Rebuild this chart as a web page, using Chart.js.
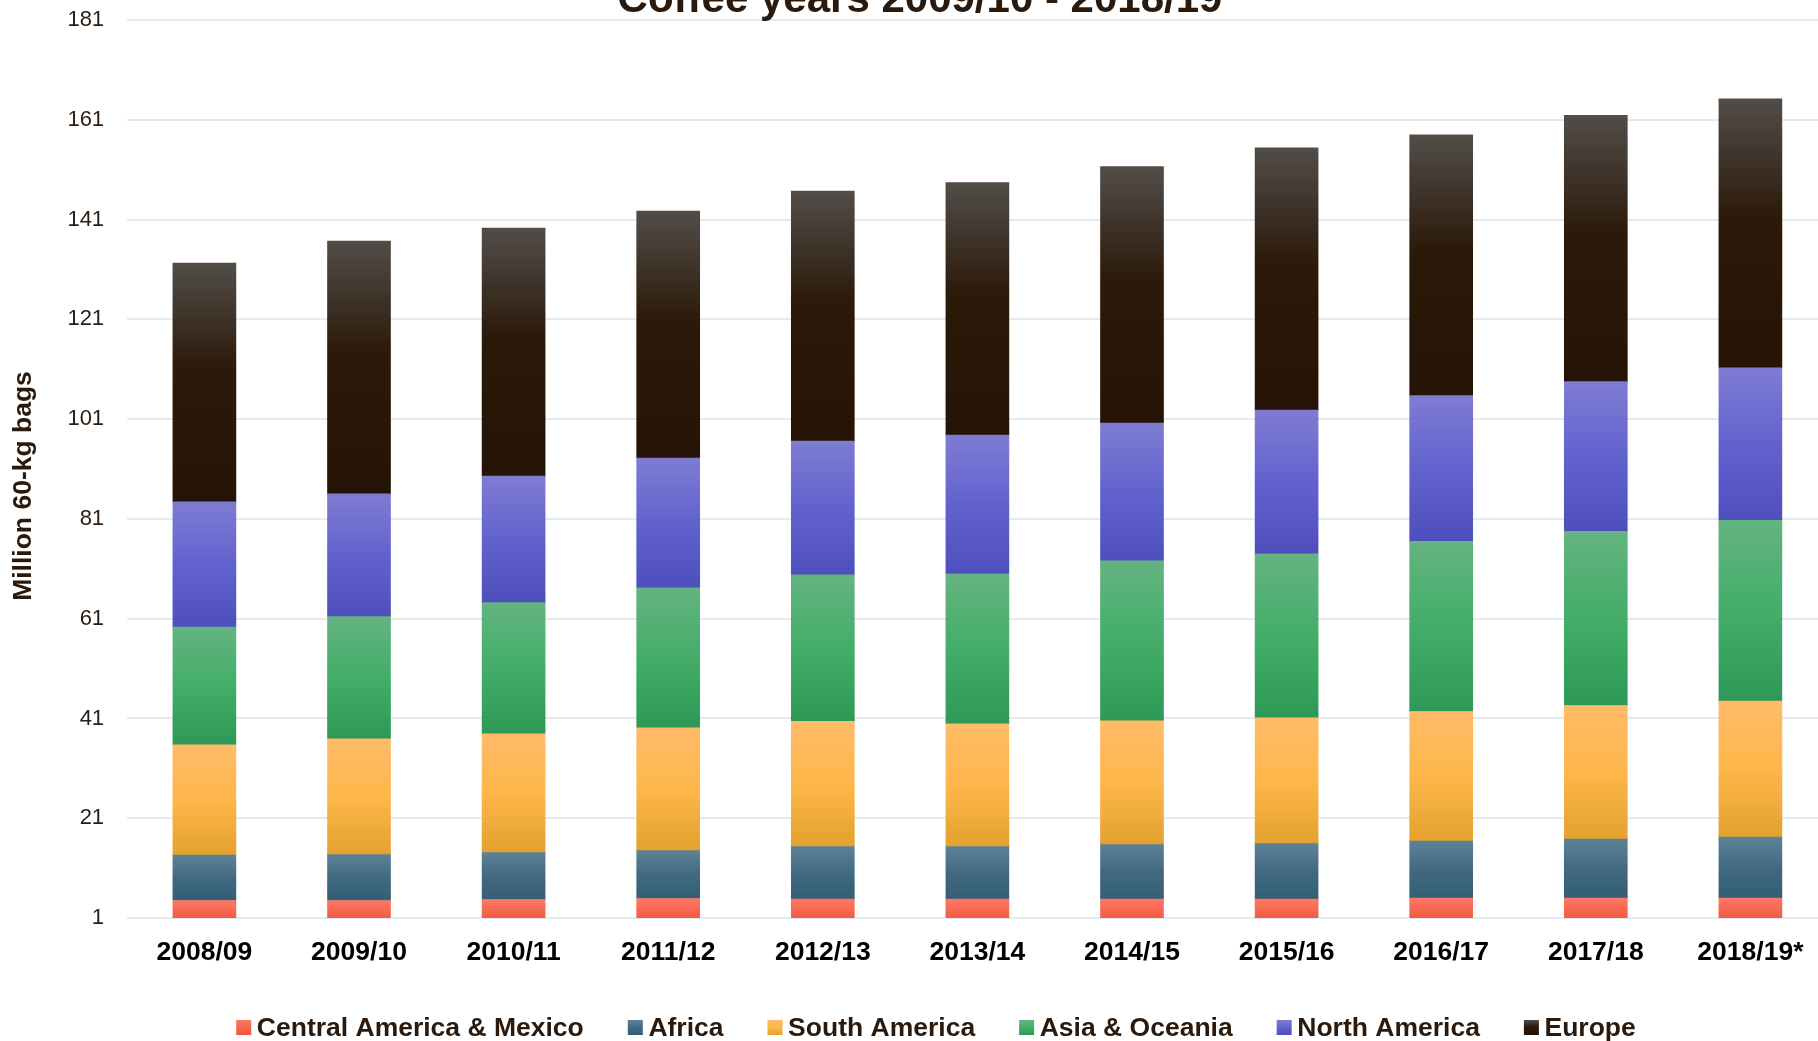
<!DOCTYPE html>
<html>
<head>
<meta charset="utf-8">
<script src="https://cdn.jsdelivr.net/npm/chart.js@4.4.1/dist/chart.umd.min.js"></script>
<style>
html,body{margin:0;padding:0;overflow:hidden;background:#ffffff;}
#wrap{position:absolute;left:0;top:0;width:1850px;height:1041px;}
</style>
</head>
<body>
<div id="wrap"><canvas id="c" width="1850" height="1041"></canvas></div>
<script>
// ---- data ----
const categories = ['2008/09','2009/10','2010/11','2011/12','2012/13','2013/14','2014/15','2015/16','2016/17','2017/18','2018/19*'];
const centralAmericaMexico = [4.5, 4.5, 4.7, 4.9, 4.8, 4.8, 4.8, 4.8, 5.0, 5.0, 5.0];
const africa = [9.1, 9.2, 9.4, 9.6, 10.5, 10.5, 10.9, 11.1, 11.4, 11.8, 12.2];
const southAmerica = [22.1, 23.2, 23.8, 24.6, 25.1, 24.6, 24.8, 25.2, 26.0, 26.8, 27.3];
const asiaOceania = [23.6, 24.5, 26.3, 28.1, 29.4, 30.1, 32.1, 32.9, 34.1, 34.9, 36.2];
const northAmerica = [25.1, 24.6, 25.4, 26.0, 26.8, 27.8, 27.6, 28.8, 29.2, 30.0, 30.6];
const europe = [47.9, 50.7, 49.7, 49.5, 50.1, 50.6, 51.4, 52.6, 52.3, 53.4, 53.9];
const seriesNames = ['Central America & Mexico','Africa','South America','Asia & Oceania','North America','Europe'];
const yMin = 1, yMax = 181, yStep = 20;
const chartTitle = 'Coffee years 2009/10 - 2018/19';
const yAxisTitle = 'Million 60-kg bags';

// ---- styles ----
const seriesValues = [centralAmericaMexico, africa, southAmerica, asiaOceania, northAmerica, europe];
const gradientStops = [
  [[0,'#ff7764'],[1,'#ee553a']],
  [[0,'#5d8297'],[0.5,'#416a82'],[1,'#345d76']],
  [[0,'#ffbb69'],[0.5,'#fdb74a'],[1,'#e3a12e']],
  [[0,'#64b480'],[0.5,'#43ad69'],[1,'#2e9856']],
  [[0,'#7e7cd2'],[0.5,'#6262cf'],[1,'#4e4ebd']],
  [[0,'#524d49'],[0.45,'#2b1909'],[1,'#251306']]
];
const BOLD = '"Liberation Sans", Arial, Helvetica, sans-serif';
const TEXT_DARK = '#2b1a0c';

function makeGrad(c, y0, y1, stops) {
  const g = c.createLinearGradient(0, y0, 0, y1);
  stops.forEach(s => g.addColorStop(s[0], s[1]));
  return g;
}

function segmentColor(ctx) {
  const di = ctx.datasetIndex, i = ctx.dataIndex;
  const stops = gradientStops[di];
  const chart = ctx.chart;
  const ys = chart.scales && chart.scales.y;
  if (!ys || !chart.chartArea || i === undefined) return stops[Math.floor(stops.length / 2)][1];
  let base = 0;
  for (let k = 0; k < di; k++) base += seriesValues[k][i];
  const top = base + seriesValues[di][i];
  const p0 = ys.getPixelForValue(top), p1 = ys.getPixelForValue(base);
  if (!isFinite(p0) || !isFinite(p1) || p1 - p0 <= 0) return stops[0][1];
  return makeGrad(chart.ctx, p0, p1, stops);
}

const datasets = seriesNames.map((name, k) => ({
  label: name,
  data: seriesValues[k],
  backgroundColor: segmentColor,
  borderWidth: 0,
  barThickness: 63,
  clip: 0,
  stack: 's'
}));

const decor = {
  id: 'decor',
  afterDraw(chart) {
    const c = chart.ctx;
    c.save();
    // title (partly cut off at top)
    c.fillStyle = TEXT_DARK;
    c.font = 'bold 42px ' + BOLD;
    c.textAlign = 'center';
    c.textBaseline = 'alphabetic';
    c.fillText(chartTitle, 920, 12);
    // y axis title
    c.save();
    c.translate(24, 486);
    c.rotate(-Math.PI / 2);
    c.font = 'bold 26.5px ' + BOLD;
    c.textAlign = 'center';
    c.textBaseline = 'middle';
    c.fillText(yAxisTitle, 0, 0);
    c.restore();
    // legend
    c.font = 'bold 26.5px ' + BOLD;
    const box = 15, gapText = 5.6, gapItem = 44;
    const widths = seriesNames.map(n => c.measureText(n).width);
    const total = widths.reduce((a, w) => a + box + gapText + w, 0) + gapItem * (seriesNames.length - 1);
    let x = 936 - total / 2;
    const cy = 1027.5;
    c.textAlign = 'left';
    c.textBaseline = 'middle';
    seriesNames.forEach((n, k) => {
      c.fillStyle = makeGrad(c, cy - box / 2, cy + box / 2, gradientStops[k]);
      c.fillRect(x, cy - box / 2, box, box);
      c.fillStyle = TEXT_DARK;
      c.fillText(n, x + box + gapText, cy + 1);
      x += box + gapText + widths[k] + gapItem;
    });
    c.restore();
  }
};

new Chart(document.getElementById('c'), {
  type: 'bar',
  data: { labels: categories, datasets },
  options: {
    responsive: false,
    animation: false,
    devicePixelRatio: 1,
    layout: { padding: { top: 20, right: 22.3, bottom: 53.2, left: 0 } },
    plugins: { legend: { display: false }, title: { display: false }, tooltip: { enabled: false } },
    scales: {
      x: {
        stacked: true,
        grid: { display: false, drawTicks: false },
        border: { display: false },
        ticks: {
          color: '#000000',
          font: { family: BOLD, size: 26.5, weight: 'bold' },
          padding: 19,
          autoSkip: false,
          maxRotation: 0
        }
      },
      y: {
        stacked: true,
        min: yMin,
        max: yMax,
        afterFit: s => { s.width = 127.1; s.paddingTop = 0; s.paddingBottom = 0; },
        grid: { color: '#e4eaee', lineWidth: 2, drawTicks: false },
        border: { display: false },
        ticks: {
          stepSize: yStep,
          color: '#2a1c10',
          font: { family: BOLD, size: 22 },
          padding: 23
        }
      }
    }
  },
  plugins: [decor]
});
</script>
</body>
</html>
